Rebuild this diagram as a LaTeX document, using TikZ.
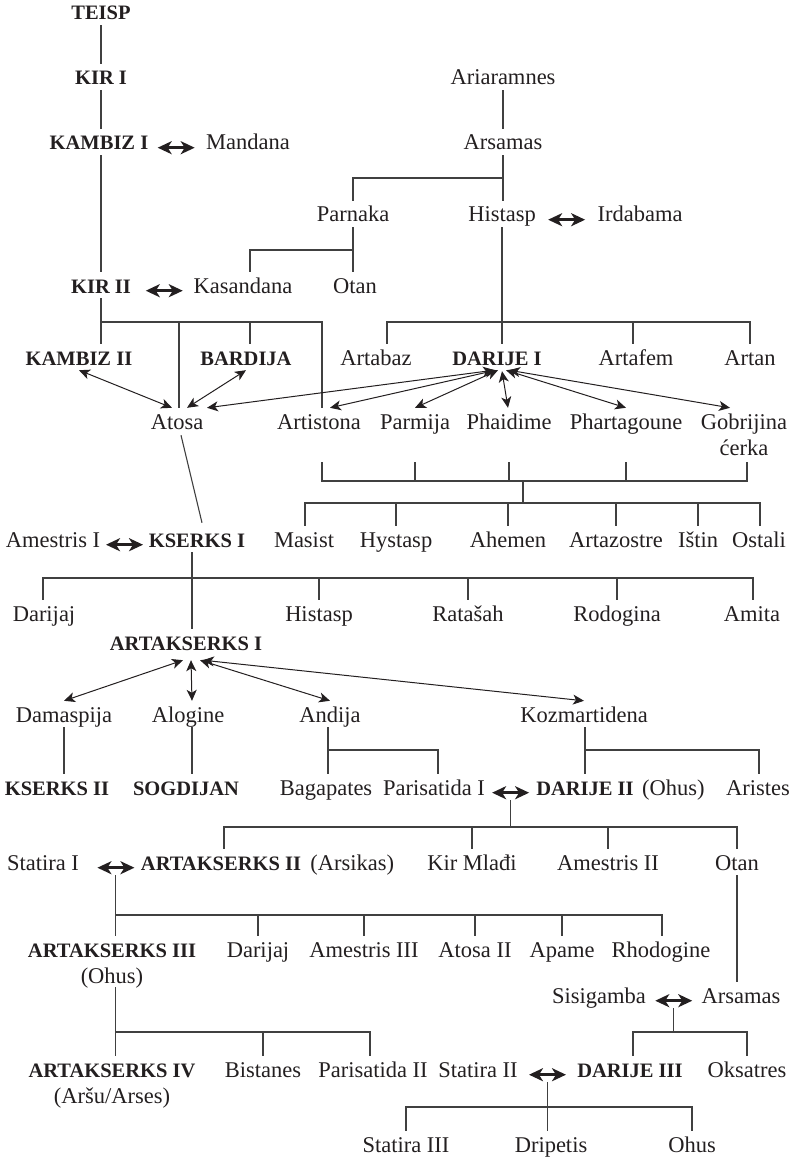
\documentclass[tikz,border=0pt]{standalone}
\usepackage{fontspec}
\setmainfont{Liberation Serif}
\usetikzlibrary{arrows.meta,calc}
\definecolor{tx}{HTML}{231F20}
\definecolor{lnc}{HTML}{404040}
\newcommand\kb[1]{{\fontsize{20.5}{26}\selectfont\bfseries #1}}
\begin{document}
\begin{tikzpicture}[x=1pt,y=-1pt,
  nm/.style={anchor=base, inner xsep=1pt, inner ysep=5pt, text height=16pt, text depth=0pt, text=tx, font=\fontsize{22.5}{26}\selectfont},
  bd/.style={nm, font=\fontsize{20.5}{26}\selectfont\bfseries},
  ln/.style={draw=lnc, line width=1.1pt},
  sp/.style={draw=tx, line width=3pt, {Stealth[length=14pt,width=13pt,inset=4pt]}-{Stealth[length=14pt,width=13pt,inset=4pt]}},
  ar/.style={draw=tx, line width=1pt, {Stealth[length=11pt,width=10pt,inset=3pt]}-{Stealth[length=11pt,width=10pt,inset=3pt]}}
]
\useasboundingbox (0,0) rectangle (796,1158);

% ---------- nodes ----------
\node[bd] (TEISP) at (101,20) {TEISP};
\node[bd] (KIRI) at (101,85) {KIR I};
\node[bd] (KAMBIZI) at (99,150) {KAMBIZ I};
\node[nm] (Mandana) at (248,150) {Mandana};
\node[nm] (Ariaramnes) at (503,85) {Ariaramnes};
\node[nm] (Arsamas) at (503,150) {Arsamas};
\node[nm] (Parnaka) at (353,222) {Parnaka};
\node[nm] (Histasp) at (502,222) {Histasp};
\node[nm] (Irdabama) at (640,222) {Irdabama};
\node[bd] (KIRII) at (101,293) {KIR II};
\node[nm] (Kasandana) at (243,293) {Kasandana};
\node[nm] (OtanA) at (355,293) {Otan};
\node[bd] (KAMBIZII) at (79,365) {KAMBIZ II};
\node[bd] (BARDIJA) at (246,365) {BARDIJA};
\node[nm] (Artabaz) at (376,365) {Artabaz};
\node[bd] (DARIJEI) at (497,365) {DARIJE I};
\node[nm] (Artafem) at (636,365) {Artafem};
\node[nm] (Artan) at (750,365) {Artan};
\node[nm] (Atosa) at (177,429) {Atosa};
\node[nm] (Artistona) at (319,429) {Artistona};
\node[nm] (Parmija) at (415,429) {Parmija};
\node[nm] (Phaidime) at (509,429) {Phaidime};
\node[nm] (Phartagoune) at (626,429) {Phartagoune};
\node[nm, text depth=28pt] (Gobrijina) at (744,429) {\begin{tabular}[t]{@{}c@{}}Gobrijina\\ćerka\end{tabular}};
\node[nm] (AmestrisI) at (53,547) {Amestris I};
\node[bd] (KSERKSI) at (197,547) {KSERKS I};
\node[nm] (Masist) at (304,547) {Masist};
\node[nm] (Hystasp) at (396,547) {Hystasp};
\node[nm] (Ahemen) at (508,547) {Ahemen};
\node[nm] (Artazostre) at (616,547) {Artazostre};
\node[nm] (Istin) at (698,547) {Ištin};
\node[nm] (Ostali) at (759,547) {Ostali};
\node[nm] (Darijaj) at (44,621) {Darijaj};
\node[nm] (HistaspB) at (319,621) {Histasp};
\node[nm] (Ratasah) at (468,621) {Ratašah};
\node[nm] (Rodogina) at (617,621) {Rodogina};
\node[nm] (Amita) at (752,621) {Amita};
\node[bd] (ARTI) at (186,650) {ARTAKSERKS I};
\node[nm] (Damaspija) at (64,722) {Damaspija};
\node[nm] (Alogine) at (188,722) {Alogine};
\node[nm] (Andija) at (330,722) {Andija};
\node[nm] (Kozmartidena) at (584,722) {Kozmartidena};
\node[bd] (KSERKSII) at (57,795) {KSERKS II};
\node[bd] (SOGDIJAN) at (186,795) {SOGDIJAN};
\node[nm] (Bagapates) at (326,795) {Bagapates};
\node[nm] (ParisatidaI) at (434,795) {Parisatida I};
\node[bd] (DARIJEII) at (585,795) {DARIJE II};
\node[nm, anchor=base west] (OhusA) at ($(DARIJEII.base east)+(6,0)$) {(Ohus)};
\node[nm] (Aristes) at (758,795) {Aristes};
\node[nm] (StatiraI) at (43,870) {Statira I};
\node[bd] (ARTII) at (221,870) {ARTAKSERKS II};
\node[nm, anchor=base west] (Arsikas) at ($(ARTII.base east)+(7,0)$) {(Arsikas)};
\node[nm] (KirMladi) at (472,870) {Kir Mlađi};
\node[nm] (AmestrisII) at (608,870) {Amestris II};
\node[nm] (OtanB) at (737,870) {Otan};
\node[nm, text depth=25pt] (ARTIII) at (112,957) {\begin{tabular}[t]{@{}c@{}}\kb{ARTAKSERKS III}\\(Ohus)\end{tabular}};
\node[nm] (DarijajB) at (258,957) {Darijaj};
\node[nm] (AmestrisIII) at (364,957) {Amestris III};
\node[nm] (AtosaII) at (475,957) {Atosa II};
\node[nm] (Apame) at (562,957) {Apame};
\node[nm] (Rhodogine) at (661,957) {Rhodogine};
\node[nm] (Sisigamba) at (599,1003) {Sisigamba};
\node[nm] (ArsamasB) at (741,1003) {Arsamas};
\node[nm] (ARTIV) at (112,1077) {\begin{tabular}[t]{@{}c@{}}\kb{ARTAKSERKS IV}\\(Aršu/Arses)\end{tabular}};
\node[nm] (Bistanes) at (263,1077) {Bistanes};
\node[nm] (ParisatidaII) at (373,1077) {Parisatida II};
\node[nm] (StatiraII) at (478,1077) {Statira II};
\node[bd] (DARIJEIII) at (630,1077) {DARIJE III};
\node[nm] (Oksatres) at (747,1077) {Oksatres};
\node[nm] (StatiraIII) at (406,1152) {Statira III};
\node[nm] (Dripetis) at (551,1152) {Dripetis};
\node[nm] (OhusB) at (692,1152) {Ohus};

% ---------- spouse arrows ----------
\coordinate (mKA) at ($(KAMBIZI.mid east)!.5!(Mandana.mid west)+(-1,0)$);
\coordinate (mKI) at ($(KIRII.mid east)!.5!(Kasandana.mid west)+(2,0)$);
\coordinate (mHI) at ($(Histasp.mid east)!.5!(Irdabama.mid west)$);
\coordinate (mAK) at ($(AmestrisI.mid east)!.5!(KSERKSI.mid west)$);
\coordinate (mPD) at ($(ParisatidaI.mid east)!.5!(DARIJEII.mid west)$);
\coordinate (mSA) at ($(StatiraI.mid east)!.5!(ARTII.mid west)+(6,0)$);
\coordinate (mSS) at ($(Sisigamba.mid east)!.5!(ArsamasB.mid west)$);
\coordinate (mSD) at ($(StatiraII.mid east)!.5!(DARIJEIII.mid west)$);
\foreach \c in {mKA,mKI,mHI,mAK,mPD,mSA,mSS,mSD}
  \draw[sp] ($(\c)+(-18.5,0)$) -- ($(\c)+(18.5,0)$);

% ---------- Teisp line ----------
\draw[ln] (TEISP.south) -- (KIRI.north);
\draw[ln] (KIRI.south) -- (KIRI.south |- KAMBIZI.north);
\draw[ln] (KIRI.south |- KAMBIZI.south) -- (KIRII.north);

% ---------- Ariaramnes line ----------
\draw[ln] (Ariaramnes.south) -- (Arsamas.north);
\draw[ln] (Arsamas.south) -- (Arsamas.south |- Histasp.north);
\coordinate (ja) at (503,178);
\draw[ln] (ja) -| (Parnaka.north);
\draw[ln] (Parnaka.south) -- (Parnaka.south |- OtanA.north);
\coordinate (jb) at (353,250);
\coordinate (jbk) at (250,250);
\draw[ln] (jb) -- (jbk) -- (jbk |- Kasandana.north);

% ---------- KIR II children ----------
\coordinate (jc) at (101,322);
\coordinate (jd) at (322,322);
\coordinate (jAt) at (179,322);
\coordinate (jBa) at (250,322);
\draw[ln] (KIRII.south) -- (KIRII.south |- KAMBIZII.north);
\draw[ln] (jc) -- (jd) -- (jd |- Artistona.north);
\draw[ln] (jAt) -- (jAt |- Atosa.north);
\draw[ln] (jBa) -- (jBa |- BARDIJA.north);

% ---------- Histasp children ----------
\coordinate (je) at (387,322);
\coordinate (jf) at (750,322);
\coordinate (jg) at (633,322);
\draw[ln] (Histasp.south) -- (Histasp.south |- DARIJEI.north);
\draw[ln] (je |- Artabaz.north) -- (je) -- (jf) -- (Artan.north);
\draw[ln] (jg) -- (jg |- Artafem.north);

% ---------- marriage arrows ----------
\draw[ar] (KAMBIZII.south) -- ($(Atosa.north)+(-5,0)$);
\draw[ar] (BARDIJA.south) -- ($(Atosa.north)+(10,0)$);
\draw[ar] ($(DARIJEI.south)+(-3,0)$) -- ($(Atosa.north)+(30,0)$);
\draw[ar] ($(DARIJEI.south)+(-1,0)$) -- ($(Artistona.north)+(11,0)$);
\draw[ar] ($(DARIJEI.south)+(1,0)$) -- (Parmija.north);
\draw[ar] ($(DARIJEI.south)+(5,1)$) -- ($(Phaidime.north)+(-1,0)$);
\draw[ar] ($(DARIJEI.south)+(9,0)$) -- (Phartagoune.north);
\draw[ar] ($(DARIJEI.south)+(12,0)$) -- ($(Gobrijina.north)+(-14,0)$);

% ---------- Darije I children ----------
\coordinate (k1) at (322,481);
\coordinate (k2) at (747,481);
\coordinate (k3) at (523,481);
\coordinate (k4) at (523,503);
\coordinate (k5) at (305,503);
\coordinate (k6) at (760,503);
\draw[ln] (k1 |- Gobrijina.south) -- (k1) -- (k2) -- (k2 |- Gobrijina.south);
\foreach \n in {Parmija,Phaidime,Phartagoune}
  \draw[ln] (\n.south |- Gobrijina.south) -- (\n.south |- k1);
\draw[ln] (k3) -- (k4);
\draw[ln] (k5 |- Masist.north) -- (k5) -- (k6) -- (k6 |- Ostali.north);
\foreach \n in {Hystasp,Ahemen,Artazostre,Istin}
  \draw[ln] (\n.north |- k5) -- (\n.north);

% ---------- Kserks I ----------
\draw[ln] ($(Atosa.south)+(4,1)$) -- ($(KSERKSI.north)+(5,-3)$);
\coordinate (m1) at (192,578);
\coordinate (m2) at (43,578);
\coordinate (m3) at (753,578);
\draw[ln] (m1 |- KSERKSI.south) -- (m1 |- ARTI.north);
\draw[ln] (m2 |- Darijaj.north) -- (m2) -- (m3) -- (m3 |- Amita.north);
\foreach \n in {HistaspB,Ratasah,Rodogina}
  \draw[ln] (\n.north |- m1) -- (\n.north);

% ---------- Artakserks I ----------
\draw[ar] ($(ARTI.south)+(-3,5)$) -- (Damaspija.north);
\draw[ar] ($(ARTI.south)+(5,5)$) -- ($(Alogine.north)+(4,0)$);
\draw[ar] ($(ARTI.south)+(14,5)$) -- (Andija.north);
\draw[ar] ($(ARTI.south)+(17,5)$) -- (Kozmartidena.north);
\draw[ln] (Damaspija.south) -- (Damaspija.south |- KSERKSII.north);
\coordinate (n1) at (192,722);
\draw[ln] (n1 |- Alogine.south) -- (n1 |- SOGDIJAN.north);
\coordinate (a1) at (328,750);
\coordinate (a2) at (438,750);
\draw[ln] (a1 |- Andija.south) -- (a1 |- Bagapates.north);
\draw[ln] (a1) -- (a2) -- (a2 |- ParisatidaI.north);
\coordinate (c1) at (585,750);
\coordinate (c2) at (759,750);
\draw[ln] (c1 |- Kozmartidena.south) -- (c1 |- DARIJEII.north);
\draw[ln] (c1) -- (c2) -- (c2 |- Aristes.north);

% ---------- Darije II children ----------
\coordinate (q1) at (224,827);
\coordinate (q2) at (737,827);
\draw[ln] (mPD |- ParisatidaI.south) -- (mPD |- q1);
\draw[ln] (q1 |- ARTII.north) -- (q1) -- (q2) -- (q2 |- OtanB.north);
\foreach \n in {KirMladi,AmestrisII}
  \draw[ln] (\n.north |- q1) -- (\n.north);

% ---------- Artakserks II children ----------
\coordinate (r1) at (662,915);
\draw[ln] (mSA |- StatiraI.south) -- (mSA |- ARTIII.north);
\draw[ln] (mSA |- r1) -- (r1) -- (r1 |- Rhodogine.north);
\foreach \n in {DarijajB,AmestrisIII,AtosaII,Apame}
  \draw[ln] (\n.north |- r1) -- (\n.north);

% ---------- Otan / Arsamas ----------
\draw[ln] (OtanB.south) -- (OtanB.south |- ArsamasB.north);
\coordinate (t1) at (633,1032);
\coordinate (t2) at (747,1032);
\draw[ln] (mSS |- Sisigamba.south) -- (mSS |- t1);
\draw[ln] (t1 |- DARIJEIII.north) -- (t1) -- (t2) -- (t2 |- Oksatres.north);

% ---------- Artakserks III children ----------
\coordinate (u1) at (370,1032);
\draw[ln] (mSA |- ARTIII.south) -- (mSA |- ARTIV.north);
\draw[ln] (mSA |- u1) -- (u1) -- (u1 |- ParisatidaII.north);
\draw[ln] (Bistanes.north |- u1) -- (Bistanes.north);

% ---------- Darije III children ----------
\coordinate (w1) at (406,1107);
\coordinate (w2) at (692,1107);
\draw[ln] (mSD |- StatiraII.south) -- (mSD |- Dripetis.north);
\draw[ln] (w1 |- StatiraIII.north) -- (w1) -- (w2) -- (w2 |- OhusB.north);
\end{tikzpicture}
\end{document}
